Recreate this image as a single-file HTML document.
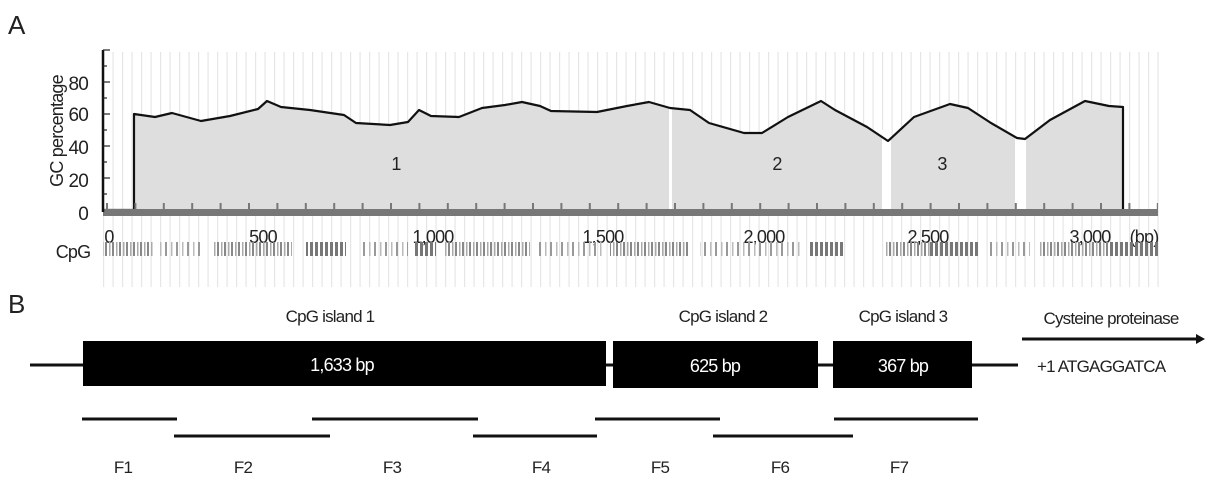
<!DOCTYPE html>
<html><head><meta charset="utf-8"><style>
html,body{margin:0;padding:0;background:#fff;width:1214px;height:481px;overflow:hidden}
svg text{font-family:"Liberation Sans",sans-serif;fill:#222;letter-spacing:-0.8px}
svg text.w{fill:#fff}
</style></head><body>
<svg width="1214" height="481" viewBox="0 0 1214 481" xmlns="http://www.w3.org/2000/svg">
<defs>
<pattern id="vl" x="103" width="9.5" height="10" patternUnits="userSpaceOnUse"><rect x="0" y="0" width="1.2" height="10" fill="#e6e6e6"/></pattern>
<pattern id="tk" x="106" width="28.4" height="10" patternUnits="userSpaceOnUse"><rect x="0" y="0" width="2" height="10" fill="#777"/></pattern>
<pattern id="c1" width="7" height="16" patternUnits="userSpaceOnUse"><rect x="0" y="0" width="2" height="16" fill="#888"/><rect x="4" y="0" width="1.5" height="16" fill="#aaa"/></pattern>
<pattern id="c2" width="5" height="16" patternUnits="userSpaceOnUse"><rect x="0" y="0" width="3" height="16" fill="#777"/></pattern>
<pattern id="c3" width="11" height="16" patternUnits="userSpaceOnUse"><rect x="0" y="0" width="2" height="16" fill="#999"/><rect x="6" y="0" width="1.5" height="16" fill="#bbb"/></pattern>
</defs>
<text x="8" y="34" font-size="26">A</text>
<rect x="103" y="52" width="1057" height="235" fill="url(#vl)"/>
<polygon fill="#dedede" points="134,211 134,114 155,117 172,113 201,121 230,116 258,109 267,101 281,107 310,110 344,115 356,123 390,125 408,122 419,110 431,116 459,117 482,108 505,105 522,102 540,106 551,111 597,112 627,106 649,102 670,108 690,110 709,123 744,133 762,133 788,117 821,101 835,110 867,127 888,141 914,117 950,104 968,108 991,123 1017,138 1025,139 1050,120 1085,101 1109,106 1123,107 1123,211"/>
<rect x="669" y="100" width="3" height="112" fill="#fff"/>
<rect x="882" y="130" width="9" height="82" fill="#fff"/>
<rect x="1015" y="130" width="11" height="82" fill="#fff"/>
<polyline fill="none" stroke="#111" stroke-width="2.2" stroke-linejoin="round" points="103,210 134,210 134,114 155,117 172,113 201,121 230,116 258,109 267,101 281,107 310,110 344,115 356,123 390,125 408,122 419,110 431,116 459,117 482,108 505,105 522,102 540,106 551,111 597,112 627,106 649,102 670,108 690,110 709,123 744,133 762,133 788,117 821,101 835,110 867,127 888,141 914,117 950,104 968,108 991,123 1017,138 1025,139 1050,120 1085,101 1109,106 1123,107 1123,211 1150,211"/>
<rect x="103" y="203" width="1055" height="6" fill="url(#tk)"/>
<rect x="103" y="209" width="1055" height="7" fill="#777"/>
<line x1="103" y1="50" x2="103" y2="212" stroke="#111" stroke-width="2.5"/>
<g stroke="#222" stroke-width="1.2">
<line x1="103" y1="50" x2="110" y2="50"/><line x1="103" y1="66" x2="107" y2="66"/><line x1="103" y1="82" x2="110" y2="82"/><line x1="103" y1="98" x2="107" y2="98"/><line x1="103" y1="114" x2="110" y2="114"/><line x1="103" y1="130" x2="107" y2="130"/><line x1="103" y1="146" x2="110" y2="146"/><line x1="103" y1="162" x2="107" y2="162"/><line x1="103" y1="178" x2="110" y2="178"/><line x1="103" y1="194" x2="107" y2="194"/>
</g>
<g font-size="19" text-anchor="end">
<text x="88" y="90">80</text><text x="88" y="121">60</text><text x="88" y="154">40</text><text x="88" y="187">20</text><text x="88" y="220">0</text>
</g>
<text transform="translate(63,131) rotate(-90)" font-size="18" text-anchor="middle">GC percentage</text>
<g font-size="18" text-anchor="middle">
<text x="396" y="170">1</text><text x="777" y="170">2</text><text x="942" y="170">3</text>
<text x="109" y="243">0</text><text x="263" y="243">500</text><text x="433" y="243">1,000</text><text x="603" y="243">1,500</text><text x="764" y="243">2,000</text><text x="928" y="243">2,500</text><text x="1090" y="243">3,000</text><text x="1144" y="243">(bp)</text>
<text x="73" y="258">CpG</text>
</g>
<g>
<rect x="103" y="242" width="50" height="14" fill="url(#c1)"/>
<rect x="160" y="242" width="40" height="14" fill="url(#c3)"/>
<rect x="212" y="242" width="80" height="14" fill="url(#c1)"/>
<rect x="306" y="242" width="40" height="14" fill="url(#c2)"/>
<rect x="360" y="242" width="48" height="14" fill="url(#c3)"/>
<rect x="414" y="242" width="22" height="14" fill="url(#c2)"/>
<rect x="445" y="242" width="85" height="14" fill="url(#c1)"/>
<rect x="536" y="242" width="68" height="14" fill="url(#c3)"/>
<rect x="610" y="242" width="80" height="14" fill="url(#c1)"/>
<rect x="700" y="242" width="100" height="14" fill="url(#c3)"/>
<rect x="810" y="242" width="35" height="14" fill="url(#c2)"/>
<rect x="885" y="242" width="45" height="14" fill="url(#c1)"/>
<rect x="930" y="242" width="50" height="14" fill="url(#c2)"/>
<rect x="990" y="242" width="40" height="14" fill="url(#c3)"/>
<rect x="1040" y="242" width="70" height="14" fill="url(#c1)"/>
<rect x="1110" y="242" width="48" height="14" fill="url(#c2)"/>
</g>
<text x="8" y="313" font-size="26">B</text>
<g font-size="17" text-anchor="middle">
<text x="330" y="322">CpG island 1</text><text x="723" y="322">CpG island 2</text><text x="903" y="322">CpG island 3</text>
<text x="1111" y="324">Cysteine proteinase</text>
</g>
<line x1="1022" y1="339" x2="1196" y2="339" stroke="#111" stroke-width="3"/>
<polygon points="1196,334 1205,339 1196,344" fill="#111"/>
<line x1="30" y1="365" x2="1018" y2="365" stroke="#111" stroke-width="3"/>
<rect x="83" y="341" width="523" height="45" fill="#000"/>
<rect x="613" y="341" width="205" height="47" fill="#000"/>
<rect x="833" y="341" width="139" height="47" fill="#000"/>
<g font-size="18" text-anchor="middle">
<text class="w" x="342" y="371">1,633 bp</text><text class="w" x="715" y="372">625 bp</text><text class="w" x="903" y="372">367 bp</text>
</g>
<text x="1037" y="372" font-size="17">+1 ATGAGGATCA</text>
<g stroke="#111" stroke-width="3">
<line x1="82" y1="419" x2="177" y2="419"/><line x1="174" y1="436" x2="330" y2="436"/>
<line x1="312" y1="419" x2="478" y2="419"/><line x1="473" y1="436" x2="597" y2="436"/>
<line x1="595" y1="419" x2="720" y2="419"/><line x1="713" y1="436" x2="853" y2="436"/>
<line x1="834" y1="419" x2="978" y2="419"/>
</g>
<g font-size="17" text-anchor="middle">
<text x="123" y="473">F1</text><text x="243" y="473">F2</text><text x="392" y="473">F3</text><text x="541" y="473">F4</text><text x="660" y="473">F5</text><text x="780" y="473">F6</text><text x="899" y="473">F7</text>
</g>
</svg>
</body></html>
